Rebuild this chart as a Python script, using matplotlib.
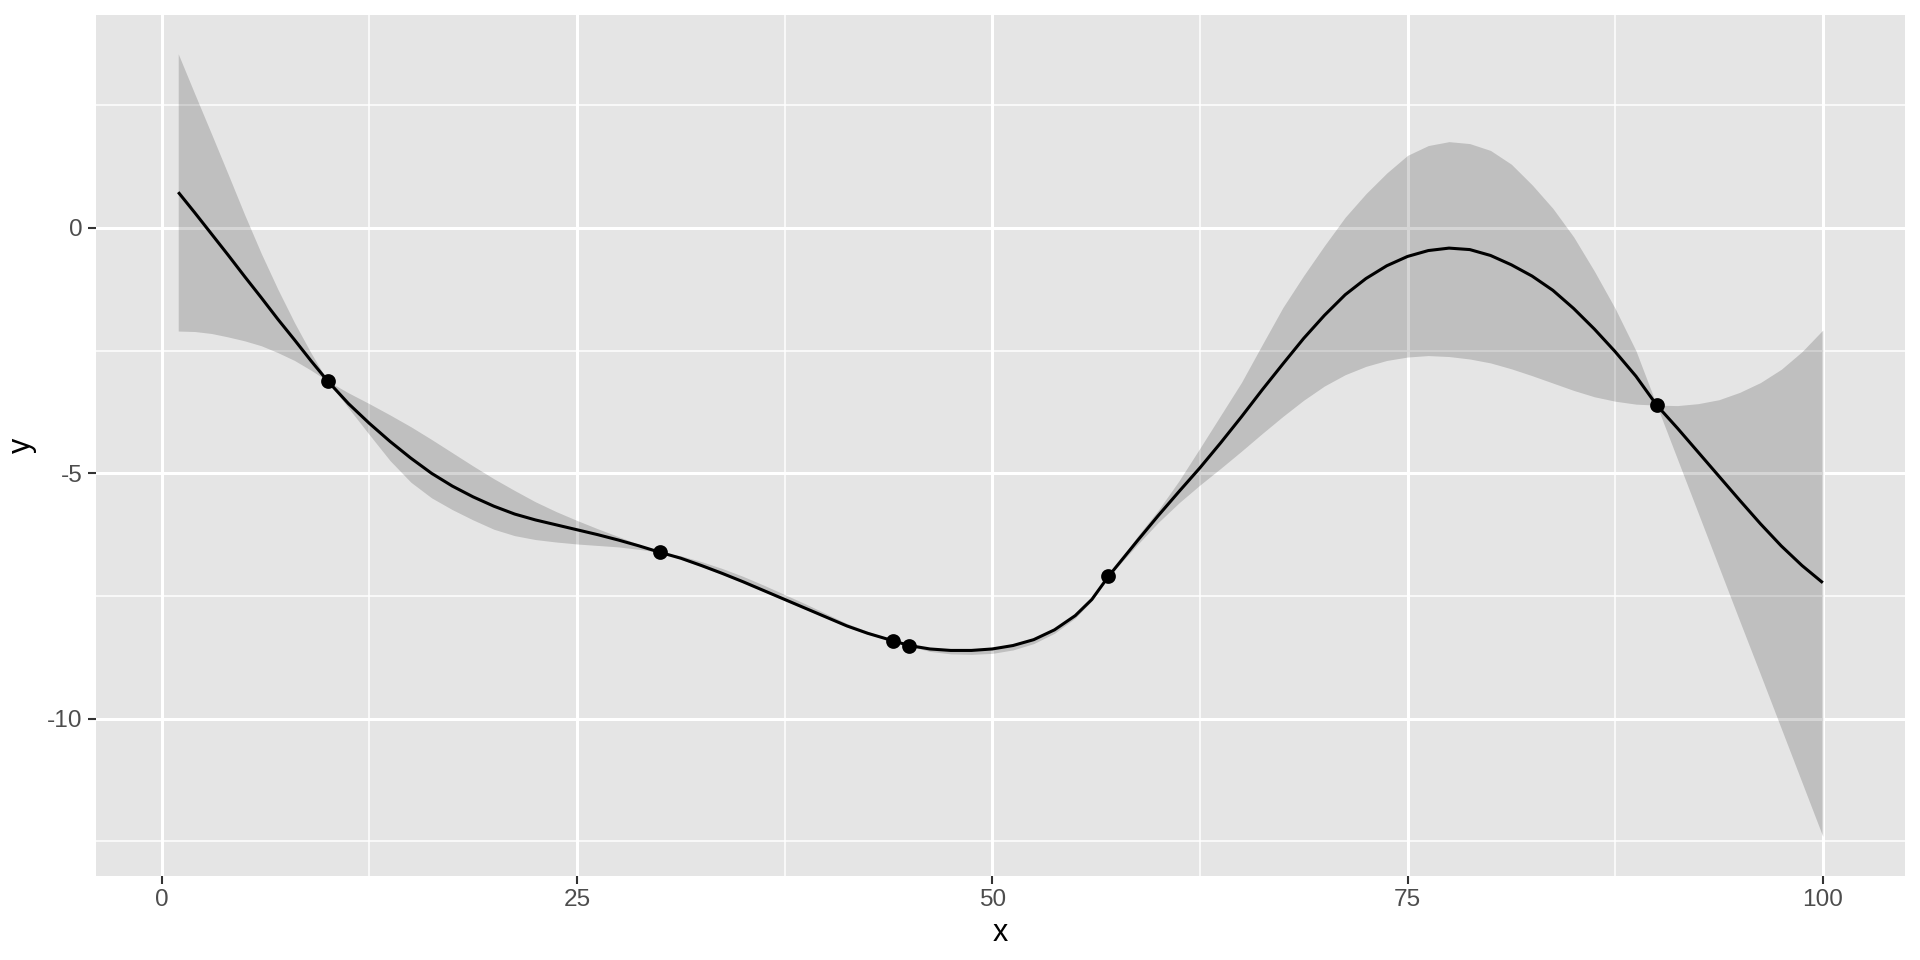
"""Gaussian-process style fit: mean curve, band and observed points (ggplot look)."""
import matplotlib

matplotlib.use("Agg")
import matplotlib.pyplot as plt
from matplotlib.ticker import FixedLocator

# ------------------ DATA ------------------ #
GRID_X = [1, 2, 3, 4, 5, 6, 7, 8, 9, 10,
          11.25, 12.5, 13.75, 15, 16.25, 17.5, 18.75, 20, 21.25, 22.5, 23.75,
          25, 26.25, 27.5, 28.75, 30,
          31.25, 32.5, 33.75, 35, 36.25, 37.5, 38.75, 40, 41.25, 42.5,
          44, 45,
          46.25, 47.5, 48.75, 50, 51.25, 52.5, 53.75, 55, 56,
          57,
          58.75, 60, 61.25, 62.5, 63.75, 65, 66.25, 67.5, 68.75, 70, 71.25,
          72.5, 73.75, 75, 76.25, 77.5, 78.75, 80, 81.25, 82.5, 83.75, 85,
          86.25, 87.5, 88.75, 90,
          91.25, 92.5, 93.75, 95, 96.25, 97.5, 98.75, 100]

MEAN_Y = [0.73, 0.31, -0.12, -0.55, -0.99, -1.42, -1.86, -2.28, -2.71, -3.12,
          -3.58, -3.98, -4.35, -4.69, -5.00, -5.26, -5.48, -5.67, -5.83, -5.95,
          -6.05, -6.15, -6.25, -6.36, -6.48, -6.61,
          -6.73, -6.88, -7.04, -7.21, -7.39, -7.57, -7.75, -7.93, -8.11, -8.26,
          -8.41, -8.51,
          -8.58, -8.61, -8.61, -8.58, -8.51, -8.39, -8.19, -7.90, -7.57,
          -7.10,
          -6.37, -5.86, -5.37, -4.89, -4.38, -3.85, -3.30, -2.77, -2.25, -1.78,
          -1.36, -1.03, -0.77, -0.58, -0.46, -0.41, -0.44, -0.56, -0.75, -0.98,
          -1.27, -1.64, -2.06, -2.52, -3.02, -3.61,
          -4.08, -4.57, -5.06, -5.55, -6.03, -6.48, -6.88, -7.23]

UPPER_Y = [3.55, 2.73, 1.92, 1.10, 0.27, -0.52, -1.25, -1.93, -2.55, -3.12,
           -3.36, -3.58, -3.81, -4.05, -4.31, -4.58, -4.85, -5.11, -5.35, -5.58,
           -5.78, -5.96, -6.13, -6.29, -6.45, -6.61,
           -6.68, -6.80, -6.94, -7.10, -7.28, -7.47, -7.66, -7.86, -8.06, -8.22,
           -8.40, -8.50,
           -8.56, -8.59, -8.59, -8.56, -8.49, -8.37, -8.17, -7.88, -7.55,
           -7.09,
           -6.28, -5.75, -5.15, -4.49, -3.82, -3.15, -2.38, -1.62, -0.97, -0.36,
           0.22, 0.70, 1.12, 1.48, 1.68, 1.76, 1.72, 1.58, 1.30, 0.88,
           0.40, -0.18, -0.88, -1.64, -2.50, -3.61,
           -3.62, -3.58, -3.50, -3.35, -3.15, -2.88, -2.52, -2.08]

LOWER_Y = [-2.10, -2.11, -2.15, -2.22, -2.30, -2.40, -2.54, -2.70, -2.90, -3.12,
           -3.67, -4.21, -4.74, -5.18, -5.50, -5.74, -5.95, -6.14, -6.27, -6.35,
           -6.40, -6.44, -6.47, -6.50, -6.55, -6.61,
           -6.75, -6.90, -7.06, -7.23, -7.41, -7.59, -7.77, -7.95, -8.13, -8.28,
           -8.42, -8.52,
           -8.63, -8.68, -8.69, -8.67, -8.60, -8.47, -8.26, -7.95, -7.60,
           -7.11,
           -6.45, -6.00, -5.60, -5.24, -4.90, -4.55, -4.19, -3.84, -3.51, -3.22,
           -2.99, -2.82, -2.70, -2.63, -2.60, -2.62, -2.67, -2.75, -2.87, -3.01,
           -3.16, -3.31, -3.44, -3.53, -3.59, -3.61,
           -4.71, -5.81, -6.91, -8.01, -9.10, -10.20, -11.30, -12.40]

OBS_X = [10.0, 30.0, 44.0, 45.0, 57.0, 90.0]
OBS_Y = [-3.12, -6.61, -8.41, -8.51, -7.10, -3.61]

X_TICKS = [0, 25, 50, 75, 100]
X_MINOR = [12.5, 37.5, 62.5, 87.5]
Y_TICKS = [-10, -5, 0]
Y_MINOR = [-12.5, -7.5, -2.5, 2.5]
# ---------------- END DATA ---------------- #

plt.rcParams["font.family"] = ["Liberation Sans", "DejaVu Sans"]

fig = plt.figure(figsize=(9.6, 4.8), dpi=200)
ax = fig.add_axes([0.05, 0.088, 0.9422, 0.8967])

ax.set_facecolor("#E5E5E5")
for spine in ax.spines.values():
    spine.set_visible(False)

# gridlines (major + minor, white)
ax.xaxis.set_major_locator(FixedLocator(X_TICKS))
ax.yaxis.set_major_locator(FixedLocator(Y_TICKS))
ax.xaxis.set_minor_locator(FixedLocator(X_MINOR))
ax.yaxis.set_minor_locator(FixedLocator(Y_MINOR))
ax.grid(which="major", color="white", linewidth=1.1)
ax.grid(which="minor", color="white", linewidth=0.55)
ax.set_axisbelow(True)

# band, mean line, observations
ax.fill_between(GRID_X, LOWER_Y, UPPER_Y, color="black", alpha=0.165,
                linewidth=0, zorder=2)
ax.plot(GRID_X, MEAN_Y, color="black", linewidth=1.1, zorder=3,
        solid_capstyle="butt", solid_joinstyle="round")
ax.plot(OBS_X, OBS_Y, "o", color="black", markersize=4.3, zorder=4)

# ggplot default expansion (5%)
x_lo, x_hi = min(GRID_X), max(GRID_X)
y_lo, y_hi = min(LOWER_Y), max(UPPER_Y)
ax.set_xlim(x_lo - 0.05 * (x_hi - x_lo), x_hi + 0.05 * (x_hi - x_lo))
ax.set_ylim(y_lo - 0.05 * (y_hi - y_lo), y_hi + 0.05 * (y_hi - y_lo))

ax.tick_params(which="major", length=2.75, width=0.75, color="#333333",
               labelsize=8.8, labelcolor="#4D4D4D", pad=2.2)
ax.tick_params(which="minor", length=0)
ax.set_xticklabels([str(t) for t in X_TICKS])
ax.set_yticklabels([str(t) for t in Y_TICKS])

ax.set_xlabel("x", fontsize=11, color="black", labelpad=2.5)
ax.set_ylabel("y", fontsize=11, color="black", labelpad=3.5)

fig.savefig("out.png", dpi=200, facecolor="white")
